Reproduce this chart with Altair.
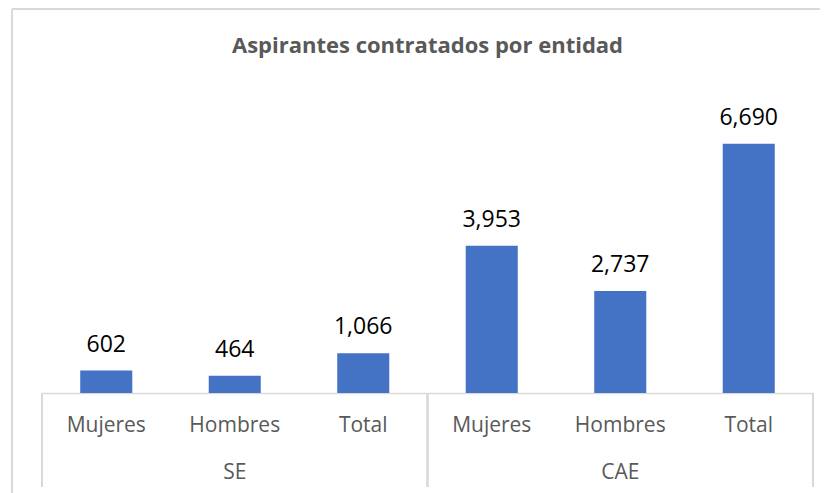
import altair as alt
import pandas as pd

title_text = "Aspirantes contratados por entidad"
groups = ["SE", "SE", "SE", "CAE", "CAE", "CAE"]
subcats = ["Mujeres", "Hombres", "Total", "Mujeres", "Hombres", "Total"]
values = [602, 464, 1066, 3953, 2737, 6690]
group_names = ["SE", "CAE"]
group_mid = ["Hombres", "Hombres"]

df = pd.DataFrame({"grupo": groups, "sub": subcats, "valor": values})
df["key"] = df["grupo"] + "|" + df["sub"]
order = list(df["key"])

gdf = pd.DataFrame({"grupo": group_names, "mid": group_mid})
gdf["key"] = gdf["grupo"] + "|" + gdf["mid"]

tdf = pd.DataFrame({"t": [title_text]})

W, H = 771, 298
FONT = "Open Sans"
GREY = "#595959"
LINE = "#d9d9d9"

xscale = alt.Scale(domain=order, paddingInner=0.595, paddingOuter=0.2975)

xenc = alt.X(
    "key:N",
    scale=xscale,
    sort=order,
    axis=alt.Axis(
        title=None,
        labelExpr="split(datum.label, '|')[1]",
        labelAngle=0,
        labelFont=FONT,
        labelFontSize=21,
        labelColor=GREY,
        labelBaseline="middle",
        labelPadding=32,
        ticks=False,
        domainColor=LINE,
        domainWidth=1.5,
        grid=False,
    ),
)

base = alt.Chart(df)

bars = base.mark_bar(color="#4472C4").encode(
    x=xenc,
    y=alt.Y("valor:Q", scale=alt.Scale(domain=[0, 8000]), axis=None),
)

labels = base.mark_text(
    font=FONT, fontSize=23, color="#000000", baseline="alphabetic", dy=-19
).encode(
    x=alt.X("key:N", scale=xscale, sort=order),
    y=alt.Y("valor:Q"),
    text=alt.Text("valor:Q", format=",d"),
)

group_text = alt.Chart(gdf).mark_text(
    font=FONT, fontSize=21, color=GREY, baseline="middle"
).encode(
    x=alt.X("key:N", scale=xscale, sort=order),
    y=alt.value(378),
    text="grupo:N",
)

title_mark = alt.Chart(tdf).mark_text(
    font=FONT, fontSize=22, fontWeight="bold", color=GREY,
    baseline="alphabetic", align="center"
).encode(
    x=alt.value(W / 2), y=alt.value(-42), text="t:N"
)

def vrule(xpix, y1, y2, color=LINE, w=1.5):
    return alt.Chart(df).mark_rule(color=color, strokeWidth=w).encode(
        x=alt.value(xpix), y=alt.value(y1), y2=alt.value(y2)
    )

sep1 = vrule(0, H, H + 94)
sep2 = vrule(W / 2, H, H + 94)
sep3 = vrule(W, H, H + 94)
border_left = vrule(-30, -86, H + 110)
border_top = alt.Chart(df).mark_rule(color=LINE, strokeWidth=1.5).encode(
    x=alt.value(-30), x2=alt.value(W + 60), y=alt.value(-86)
)

chart = (
    alt.layer(border_left, border_top, sep1, sep2, sep3, bars, labels,
              group_text, title_mark)
    .properties(
        width=W,
        height=H,
        autosize=alt.AutoSizeParams(type="none"),
        padding={"left": 34, "top": 87, "right": 7, "bottom": 100},
    )
    .configure(background="white", view=alt.ViewConfig(stroke="transparent", strokeWidth=0))
)

chart.save("out.html", embed_options={"renderer": "svg", "actions": False})
